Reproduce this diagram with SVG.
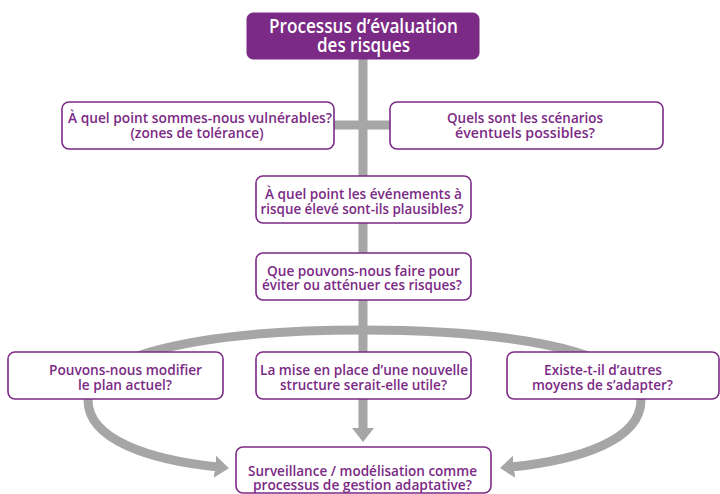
<svg xmlns="http://www.w3.org/2000/svg" width="720" height="494" viewBox="0 0 720 494">
<defs>
<style>
.box{fill:#ffffff;stroke:#7b2a85;stroke-width:1.6}
.title{fill:#7b2a85;stroke:#7b2a85;stroke-width:1}
.t{font-family:"Open Sans","Liberation Sans",sans-serif;font-weight:600;font-size:14.5px;fill:#7b2a85;text-anchor:middle}
.tw{font-family:"Open Sans","Liberation Sans",sans-serif;font-weight:600;font-size:19px;fill:#ffffff;text-anchor:middle}
.c{fill:none;stroke:#a6a6a6;stroke-width:9}
</style>
<marker id="ah" viewBox="0 0 14 22" markerWidth="14" markerHeight="22" refX="3" refY="11" orient="auto" markerUnits="userSpaceOnUse">
<path d="M0,0 L14,11 L0,22 z" fill="#a6a6a6"/>
</marker>
</defs>
<rect width="720" height="494" fill="#ffffff"/>
<g id="connectors">
<path class="c" d="M363 58 L363 431" marker-end="url(#ah)"/>
<path class="c" d="M333 125 L391 125"/>
<path class="c" d="M363 330 C290 330 210 335 150 352 C110 364 88 380 88 400 C88 440 150 460 218 467" marker-end="url(#ah)"/>
<path class="c" d="M363 330 C436 330 516 335 576 352 C616 364 641 380 641 400 C641 440 580 460 511 467" marker-end="url(#ah)"/>
</g>
<g id="n-title">
<rect class="title" x="247" y="13" width="232" height="46" rx="6"/>
<text class="tw" x="363.5" y="33" textLength="189" lengthAdjust="spacingAndGlyphs">Processus d’évaluation</text>
<text class="tw" x="363.5" y="52" textLength="93" lengthAdjust="spacingAndGlyphs">des risques</text>
</g>
<g id="n-vuln">
<rect class="box" x="62" y="102" width="272" height="47" rx="7"/>
<text class="t" x="200" y="123" textLength="264" lengthAdjust="spacingAndGlyphs">À quel point sommes-nous vulnérables?</text>
<text class="t" x="197" y="137.5" textLength="133" lengthAdjust="spacingAndGlyphs">(zones de tolérance)</text>
</g>
<g id="n-scen">
<rect class="box" x="390" y="102" width="273" height="47" rx="7"/>
<text class="t" x="525" y="123" textLength="156" lengthAdjust="spacingAndGlyphs">Quels sont les scénarios</text>
<text class="t" x="525" y="137.5" textLength="140" lengthAdjust="spacingAndGlyphs">éventuels possibles?</text>
</g>
<g id="n-plaus">
<rect class="box" x="256" y="176" width="215" height="47" rx="7"/>
<text class="t" x="363.5" y="199" textLength="197" lengthAdjust="spacingAndGlyphs">À quel point les événements à</text>
<text class="t" x="362" y="213.5" textLength="203" lengthAdjust="spacingAndGlyphs">risque élevé sont-ils plausibles?</text>
</g>
<g id="n-faire">
<rect class="box" x="256" y="253" width="215" height="47" rx="7"/>
<text class="t" x="363.5" y="275.5" textLength="193" lengthAdjust="spacingAndGlyphs">Que pouvons-nous faire pour</text>
<text class="t" x="362" y="290" textLength="200" lengthAdjust="spacingAndGlyphs">éviter ou atténuer ces risques?</text>
</g>
<g id="n-plan">
<rect class="box" x="8" y="352" width="215" height="47" rx="7"/>
<text class="t" x="125.5" y="375" textLength="153" lengthAdjust="spacingAndGlyphs">Pouvons-nous modifier</text>
<text class="t" x="125" y="389.5" textLength="94" lengthAdjust="spacingAndGlyphs">le plan actuel?</text>
</g>
<g id="n-struct">
<rect class="box" x="256" y="352" width="215" height="47" rx="7"/>
<text class="t" x="364" y="375" textLength="208" lengthAdjust="spacingAndGlyphs">La mise en place d’une nouvelle</text>
<text class="t" x="363.5" y="389.5" textLength="167" lengthAdjust="spacingAndGlyphs">structure serait-elle utile?</text>
</g>
<g id="n-autres">
<rect class="box" x="507" y="352" width="212" height="47" rx="7"/>
<text class="t" x="603" y="375" textLength="118" lengthAdjust="spacingAndGlyphs">Existe-t-il d’autres</text>
<text class="t" x="602.5" y="389.5" textLength="141" lengthAdjust="spacingAndGlyphs">moyens de s’adapter?</text>
</g>
<g id="n-surv">
<rect class="box" x="236" y="447" width="255" height="46" rx="7"/>
<text class="t" x="362.5" y="476" textLength="229" lengthAdjust="spacingAndGlyphs">Surveillance / modélisation comme</text>
<text class="t" x="362.5" y="490" textLength="219" lengthAdjust="spacingAndGlyphs">processus de gestion adaptative?</text>
</g>
</svg>
